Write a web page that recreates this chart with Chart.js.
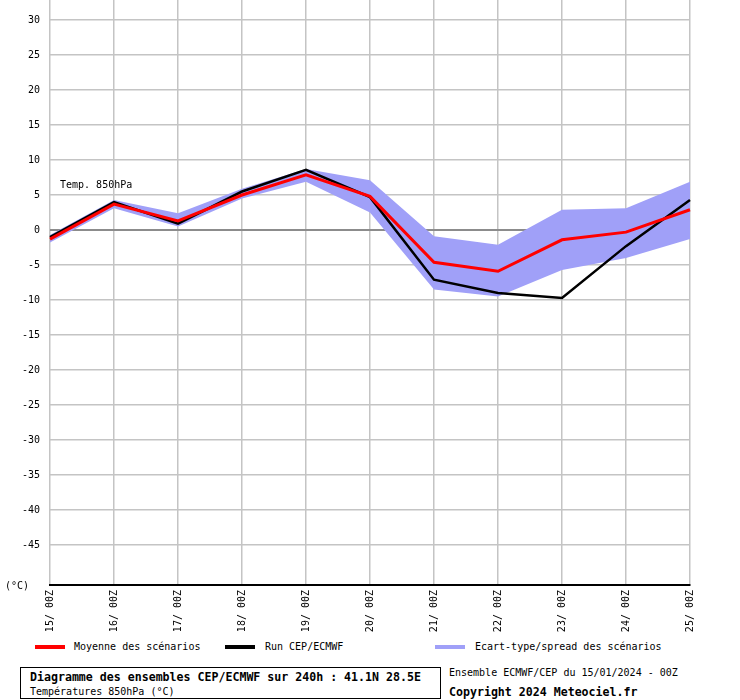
<!DOCTYPE html>
<html>
<head>
<meta charset="utf-8">
<script src="https://cdn.jsdelivr.net/npm/chart.js@4"></script>
<style>
  body { margin: 0; background: #fff; font-family: "DejaVu Sans Mono", monospace; font-size: 10px; color: #000; }
  #wrap { position: relative; width: 740px; height: 700px; }
  #chartBox { position: absolute; left: 0; top: 0; width: 740px; height: 640px; }
  .txt { position: absolute; white-space: nowrap; line-height: 12px; }
  .sw { position: absolute; width: 30px; height: 4px; }
  #box { position: absolute; left: 20px; top: 667px; width: 421px; height: 32px; border: 1px solid #000; box-sizing: border-box; }
  b { font-size: 11.6px; }
</style>
</head>
<body>
<div id="wrap">
  <div id="chartBox"><canvas id="chart"></canvas></div>
  <div class="txt" style="left:60px;top:179px">Temp. 850hPa</div>
  <div class="txt" style="left:5px;top:580px">(°C)</div>

  <div class="sw" style="left:35px;top:645px;background:#ff0000"></div>
  <div class="txt" style="left:74px;top:641px">Moyenne des scénarios</div>
  <div class="sw" style="left:225px;top:645px;background:#000"></div>
  <div class="txt" style="left:265px;top:641px">Run CEP/ECMWF</div>
  <div class="sw" style="left:435px;top:645px;background:#a0a0f8"></div>
  <div class="txt" style="left:475px;top:641px">Ecart-type/spread des scénarios</div>

  <div id="box">
    <div class="txt" style="left:9px;top:3px"><b>Diagramme des ensembles CEP/ECMWF sur 240h : 41.1N 28.5E</b></div>
    <div class="txt" style="left:9px;top:18px">Températures 850hPa (°C)</div>
  </div>
  <div class="txt" style="left:449px;top:667px">Ensemble ECMWF/CEP du 15/01/2024 - 00Z</div>
  <div class="txt" style="left:449px;top:686px"><b>Copyright 2024 Meteociel.fr</b></div>
</div>
<script>
/* DATA */
const labels = ["15/ 00Z", "16/ 00Z", "17/ 00Z", "18/ 00Z", "19/ 00Z", "20/ 00Z",
                "21/ 00Z", "22/ 00Z", "23/ 00Z", "24/ 00Z", "25/ 00Z"];
const meanVals = [-1.3, 3.7, 1.3, 5.0, 7.9, 4.8, -4.6, -5.9, -1.4, -0.3, 2.9];
const runVals = [-1.0, 4.0, 0.9, 5.5, 8.6, 4.7, -7.1, -9.0, -9.7, -2.3, 4.3];
const spreadHigh = [-0.7, 4.3, 2.4, 5.9, 8.7, 7.1, -0.9, -2.1, 2.9, 3.1, 6.9];
const spreadLow = [-1.8, 3.1, 0.5, 4.5, 6.9, 2.5, -8.5, -9.5, -5.7, -4.0, -1.3];
const yTicks = [-45, -40, -35, -30, -25, -20, -15, -10, -5, 0, 5, 10, 15, 20, 25, 30];

const mono = { family: "DejaVu Sans Mono", size: 10 };

new Chart(document.getElementById("chart"), {
  type: "line",
  data: {
    labels: labels,
    datasets: [
      { label: "spread+", data: spreadHigh, borderWidth: 0, pointRadius: 0,
        backgroundColor: "#a0a0f8", fill: "+1", order: 3, tension: 0 },
      { label: "spread-", data: spreadLow, borderWidth: 0, pointRadius: 0,
        backgroundColor: "#a0a0f8", fill: false, order: 4, tension: 0 },
      { label: "Run CEP/ECMWF", data: runVals, borderColor: "#000", borderWidth: 2.5,
        pointRadius: 0, fill: false, order: 2, tension: 0 },
      { label: "Moyenne des scénarios", data: meanVals, borderColor: "#ff0000", borderWidth: 3,
        pointRadius: 0, fill: false, order: 1, tension: 0 }
    ]
  },
  options: {
    responsive: true,
    maintainAspectRatio: false,
    animation: false,
    layout: { padding: { top: 0, right: 50, left: 0, bottom: 0 } },
    plugins: { legend: { display: false }, tooltip: { enabled: false } },
    scales: {
      x: {
        grid: { color: "#c4c4c4", lineWidth: 1.5, drawTicks: false },
        border: { color: "#000", width: 2 },
        ticks: { minRotation: 90, maxRotation: 90, color: "#000", font: mono, padding: 5, autoSkip: false },
        afterFit: axis => { axis.height = 55; axis.paddingLeft = 0; axis.paddingRight = 0; }
      },
      y: {
        min: -50.71,
        max: 32.86,
        afterBuildTicks: axis => { axis.ticks = yTicks.map(v => ({ value: v })); },
        grid: {
          drawTicks: false,
          color: ctx => ctx.tick && ctx.tick.value === 0 ? "#8c8c8c" : "#c4c4c4",
          lineWidth: ctx => ctx.tick && ctx.tick.value === 0 ? 2 : 1.5
        },
        border: { display: false },
        ticks: { color: "#000", font: mono, padding: 10 },
        afterFit: axis => { axis.width = 50; axis.paddingTop = 0; axis.paddingBottom = 0; }
      }
    }
  }
});
</script>
</body>
</html>
